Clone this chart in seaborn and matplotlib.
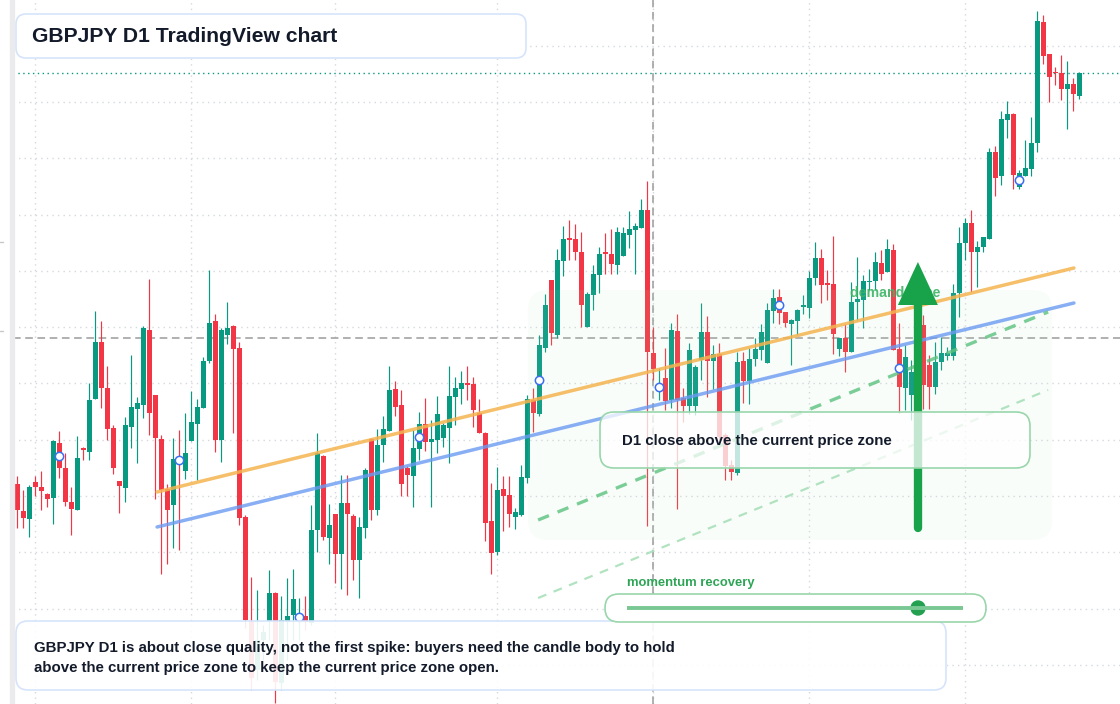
import numpy as np
import pandas as pd
import matplotlib
matplotlib.use('Agg')
import matplotlib.pyplot as plt
import seaborn as sns
from matplotlib.patches import FancyBboxPatch, Rectangle, Circle

# daily candles (price units), oldest first
opens = [220, 193, 185, 222, 217, 210, 206, 261, 236, 202, 194, 256, 252, 305, 362, 316, 276, 223, 216, 277,
         295, 299, 374, 309, 265, 215, 199, 246, 233, 263, 280, 296, 343, 383, 264, 369, 378, 356, 187, 83,
         34, 64, 83, 111, 21, 82, 89, 84, 88, 81, 174, 248, 166, 190, 150, 201, 188, 144, 176, 265,
         194, 259, 273, 315, 299, 236, 228, 255, 280, 262, 264, 266, 276, 307, 315, 321, 320, 291, 271, 183,
         152, 215, 209, 187, 189, 226, 304, 290, 356, 424, 369, 443, 466, 465, 452, 377, 409, 429, 452, 450,
         439, 448, 469, 474, 476, 494, 351, 314, 326, 304, 373, 306, 298, 298, 344, 372, 343, 350, 269, 239,
         231, 343, 323, 345, 354, 341, 393, 407, 392, 380, 383, 397, 396, 426, 446, 421, 420, 355, 366, 352,
         402, 404, 422, 423, 441, 432, 454, 355, 316, 309, 332, 379, 339, 317, 342, 348, 348, 411, 461, 481,
         452, 457, 465, 552, 528, 584, 590, 517, 528, 535, 561, 682, 650, 632, 631, 615, 620, 608]
highs = [228, 214, 219, 228, 233, 211, 264, 273, 251, 217, 268, 257, 321, 393, 383, 338, 279, 223, 287, 349,
         307, 378, 425, 309, 269, 220, 266, 274, 291, 313, 305, 347, 434, 390, 376, 402, 379, 362, 189, 127,
         114, 79, 134, 112, 108, 126, 135, 106, 108, 199, 271, 249, 200, 190, 229, 229, 190, 187, 236, 266,
         275, 288, 338, 323, 314, 238, 274, 292, 306, 284, 308, 281, 338, 327, 333, 338, 327, 305, 272, 221,
         237, 228, 228, 196, 239, 309, 316, 369, 410, 424, 455, 478, 484, 480, 472, 412, 439, 457, 471, 475,
         477, 477, 493, 481, 505, 523, 377, 336, 356, 381, 390, 316, 361, 339, 401, 388, 359, 361, 271, 244,
         352, 352, 356, 366, 380, 401, 415, 415, 392, 385, 395, 409, 433, 462, 455, 434, 468, 366, 380, 422,
         447, 429, 435, 452, 454, 465, 460, 381, 359, 344, 386, 389, 349, 362, 367, 357, 420, 477, 486, 494,
         463, 467, 556, 558, 593, 603, 591, 534, 564, 587, 693, 689, 650, 637, 649, 643, 626, 632]
lows = [176, 176, 167, 208, 194, 197, 180, 226, 198, 169, 194, 244, 244, 305, 296, 264, 230, 191, 202, 256,
        241, 286, 269, 205, 130, 140, 156, 154, 225, 263, 224, 296, 341, 252, 242, 360, 271, 179, 76, 14,
        24, 44, 64, 1, 14, 44, 64, 64, 74, 79, 152, 164, 140, 121, 115, 109, 124, 106, 166, 184,
        189, 242, 273, 288, 208, 208, 197, 244, 253, 197, 251, 257, 241, 279, 300, 304, 277, 271, 163, 130,
        149, 173, 177, 175, 188, 221, 272, 288, 352, 359, 366, 428, 444, 444, 377, 377, 394, 411, 430, 430,
        430, 448, 456, 430, 476, 178, 324, 304, 294, 296, 195, 282, 290, 289, 324, 307, 315, 264, 224, 224,
        229, 301, 300, 338, 344, 341, 381, 380, 377, 339, 369, 390, 386, 419, 401, 404, 350, 348, 332, 352,
        384, 376, 414, 414, 424, 432, 354, 291, 294, 284, 324, 295, 295, 310, 334, 344, 344, 387, 444, 412,
        417, 452, 465, 508, 519, 566, 515, 515, 528, 528, 552, 640, 602, 619, 604, 575, 593, 605]
closes = [194, 186, 217, 217, 213, 205, 263, 236, 202, 195, 246, 254, 304, 362, 316, 275, 236, 218, 279, 297,
          301, 376, 291, 266, 214, 194, 245, 243, 251, 282, 297, 343, 381, 264, 374, 376, 355, 186, 84, 26,
          64, 72, 111, 22, 84, 88, 105, 90, 82, 174, 251, 167, 179, 150, 201, 190, 144, 177, 234, 194,
          259, 275, 314, 297, 220, 229, 256, 280, 262, 265, 290, 279, 308, 316, 321, 319, 294, 271, 181, 151,
          214, 208, 190, 192, 227, 305, 291, 359, 399, 371, 444, 465, 464, 452, 399, 410, 430, 450, 450, 440,
          472, 471, 475, 478, 494, 352, 335, 320, 303, 374, 304, 298, 354, 337, 372, 343, 350, 267, 238, 232,
          342, 323, 345, 355, 372, 394, 406, 391, 381, 384, 394, 399, 426, 446, 419, 419, 370, 366, 352, 402,
          405, 423, 423, 442, 430, 455, 354, 317, 347, 332, 379, 319, 317, 342, 351, 351, 411, 461, 481, 452,
          457, 467, 552, 526, 585, 590, 529, 531, 536, 561, 683, 648, 627, 631, 615, 620, 610, 631]

# chart annotations (candle index, price)
orange_line = ([23.3, 176.1], [212, 436])
blue_line = ([23.3, 176.1], [177, 401])
green_dash = ([86.8, 171.8], [184, 392])
green_dash_light = ([86.8, 171.8], [106, 314])
zone_x = (85.1, 172.5)
zone_y = (164, 414)
arrow_x, arrow_base, arrow_neck, arrow_tip = 150.1, 176, 399, 442
cross_x, cross_price, last_price = 105.95, 366, 631
grid_x = [3, 29, 53, 80, 106, 132, 158]
grid_y = [39, 95, 152, 208, 264, 321, 377, 433, 489, 546, 602, 658]
marker_idx = list(range(7, 178, 20))

UP, DOWN = '#089981', '#f23645'

sns.set_style('white')
plt.rcParams['font.family'] = ['Liberation Sans', 'DejaVu Sans']

df = pd.DataFrame({'open': opens, 'high': highs, 'low': lows, 'close': closes})
df['x'] = np.arange(len(df))
df['color'] = np.where(df['close'] >= df['open'], UP, DOWN)
df['bottom'] = df[['open', 'close']].min(axis=1)
df['height'] = (df['close'] - df['open']).abs().clip(lower=1.5)

fig = plt.figure(figsize=(11.2, 7.04), dpi=100)
ax = fig.add_axes([13 / 1120, 0, 1 - 13 / 1120, 1])
ax.set_xlim(-0.717, 183.78)
ax.set_ylim(0, 704)
ax.set_xticks(grid_x)
ax.set_yticks(grid_y)
ax.grid(True, color='#d5d8dd', linestyle=(0, (1, 3)), lw=1)
ax.set_axisbelow(True)
ax.tick_params(length=0, labelbottom=False, labelleft=False)
for s in ax.spines.values():
    s.set_visible(False)

ax.axhline(last_price, color=UP, ls=(0, (1, 2.5)), lw=1, zorder=1)
ax.axhline(cross_price, color='#9b9b9b', ls=(0, (5, 3)), lw=1.1, zorder=1)
ax.axvline(cross_x, color='#9b9b9b', ls=(0, (5, 3)), lw=1.1, zorder=1)

ax.vlines(df['x'], df['low'], df['high'], colors=df['color'], lw=0.85, zorder=2)
ax.bar(df['x'], df['height'], bottom=df['bottom'], width=0.78, color=df['color'], linewidth=0, zorder=2)

# light demand zone over candles
zone = FancyBboxPatch((zone_x[0], zone_y[0]), zone_x[1] - zone_x[0], zone_y[1] - zone_y[0],
                      boxstyle='round,pad=0,rounding_size=3.3', mutation_aspect=6,
                      fc=(0.72, 0.92, 0.76, 0.08), ec='none', zorder=3)
ax.add_patch(zone)

sns.lineplot(x=orange_line[0], y=orange_line[1], ax=ax, color='#f5b450', lw=2.5, alpha=0.85, zorder=4)
sns.lineplot(x=blue_line[0], y=blue_line[1], ax=ax, color='#6b9bf2', lw=2.5, alpha=0.8, zorder=4)
ax.plot(green_dash[0], green_dash[1], color='#5cc27e', lw=2.4, ls=(0, (3.5, 2.8)), alpha=0.8, zorder=4)
ax.plot(green_dash_light[0], green_dash_light[1], color='#a9e0ba', lw=1.6, ls=(0, (4, 3.5)), alpha=0.9, zorder=4)

mk = df.loc[marker_idx]
sns.scatterplot(x=mk['x'], y=(mk['open'] + mk['close']) / 2, ax=ax, s=36, marker='o',
                facecolor='white', edgecolor='#3b6ff0', linewidth=1.1, zorder=5)

ax.text(138.8, 411, 'demand zone', color='#3cb465', fontsize=10.2, fontweight='bold',
        va='center', ha='left', alpha=0.9, zorder=5)
ax.plot([arrow_x, arrow_x], [arrow_base, arrow_neck], color='#18a34a', lw=6,
        solid_capstyle='round', zorder=6)
ax.fill([arrow_x - 3.33, arrow_x, arrow_x + 3.33], [arrow_neck, arrow_tip, arrow_neck],
        color='#18a34a', lw=0, zorder=6)

# overlay in pixel units for the boxes
ov = fig.add_axes([0, 0, 1, 1])
ov.set_xlim(0, 1120)
ov.set_ylim(704, 0)
ov.axis('off')
ov.patch.set_visible(False)


def box(x0, y0, x1, y1, fc, ec, r):
    ov.add_patch(FancyBboxPatch((x0, y0), x1 - x0, y1 - y0,
                                boxstyle=f'round,pad=0,rounding_size={r}',
                                fc=fc, ec=ec, lw=1.2))


fig.patches.append(Rectangle((9.5 / 1120, 0), 4 / 1120, 1, transform=fig.transFigure,
                             color='#ebebed', zorder=0))
for ty in (242, 331):
    ov.plot([0, 3], [ty, ty], color='#c8c8c8', lw=1)

TXT = '#131a2a'
box(16, 14, 526, 58, 'white', '#d6e4fb', 10)
ov.text(32, 36.5, 'GBPJPY D1 TradingView chart', fontsize=15.2, fontweight='bold', color=TXT,
        va='center', ha='left')

box(16, 621, 946, 690, (1, 1, 1, 0.9), '#d6e4fb', 12)
ov.text(34, 648, 'GBPJPY D1 is about close quality, not the first spike: buyers need the candle body to hold',
        fontsize=10.85, fontweight='bold', color=TXT, va='center')
ov.text(34, 668, 'above the current price zone to keep the current price zone open.',
        fontsize=10.85, fontweight='bold', color=TXT, va='center')

box(600, 412, 1030, 468, (1, 1, 1, 0.75), '#99d6ab', 14)
ov.text(622, 441, 'D1 close above the current price zone', fontsize=10.8, fontweight='bold',
        color=TXT, va='center')

ov.text(627, 583, 'momentum recovery', fontsize=9.4, fontweight='bold', color='#2ea556', va='center')
box(605, 594, 986, 622, 'white', '#99d6ab', 14)
ov.plot([627, 963], [608, 608], color='#79c893', lw=2.8, solid_capstyle='butt')
ov.add_patch(Circle((918, 608), 7, color='#24a150'))

fig.savefig('out.png', dpi=100)
